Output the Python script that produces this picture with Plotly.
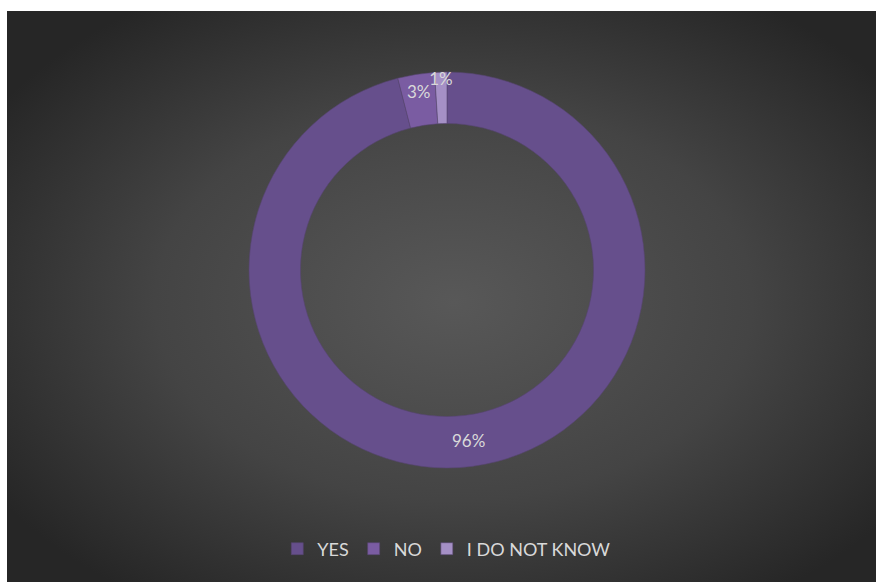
import base64
import plotly.graph_objects as go

# Data
categories = ["YES", "NO", "I DO NOT KNOW"]
values = [96, 3, 1]
colors = ["#664f8c", "#7a5ca2", "#a590c6"]

W, H = 876, 582

svg = '''<svg xmlns="http://www.w3.org/2000/svg" width="869" height="571" viewBox="0 0 869 571" preserveAspectRatio="none">
<defs><radialGradient id="g" cx="0.51" cy="0.5" r="0.62">
<stop offset="0" stop-color="#585858"/>
<stop offset="0.55" stop-color="#444444"/>
<stop offset="1" stop-color="#262626"/>
</radialGradient></defs>
<rect width="869" height="571" fill="url(#g)"/></svg>'''
src = "data:image/svg+xml;base64," + base64.b64encode(svg.encode()).decode()

cx, cy, R = 447, 270, 198
fig = go.Figure(go.Pie(
    labels=categories,
    values=values,
    hole=0.74,
    sort=False,
    direction="clockwise",
    rotation=0,
    marker=dict(colors=colors, line=dict(color="#55446f", width=0.6)),
    texttemplate="%{percent:.0%}",
    textposition="inside",
    insidetextorientation="horizontal",
    textfont=dict(size=17, color="#d9d9d9", family="Lato"),
    domain=dict(x=[(cx - R) / W, (cx + R) / W], y=[(H - cy - R) / H, (H - cy + R) / H]),
    hoverinfo="label+percent",
))

fig.update_layout(
    width=W, height=H,
    margin=dict(l=0, r=0, t=0, b=0),
    paper_bgcolor="#262626",
    plot_bgcolor="rgba(0,0,0,0)",
    font=dict(family="Lato", color="#d9d9d9"),
    uniformtext=dict(minsize=17, mode="show"),
    showlegend=True,
    legend=dict(orientation="h", x=0.51, xanchor="center", y=(H - 549) / H, yanchor="middle",
                font=dict(size=18, color="#d9d9d9", family="Lato"),
                bgcolor="rgba(0,0,0,0)", itemwidth=30, traceorder="normal"),
    images=[dict(source=src, xref="paper", yref="paper", x=7 / W, y=1 - 11 / H,
                 sizex=1.0, sizey=1.0, sizing="stretch",
                 xanchor="left", yanchor="top", layer="below")],
    shapes=[
        dict(type="rect", xref="paper", yref="paper", x0=0, x1=7 / W, y0=0, y1=1,
             fillcolor="white", line_width=0, layer="below"),
        dict(type="rect", xref="paper", yref="paper", x0=0, x1=1, y0=1 - 11 / H, y1=1,
             fillcolor="white", line_width=0, layer="below"),
    ],
)

fig.write_html("out.html", config={"displayModeBar": False},
               post_script="document.body.style.margin='0';document.body.style.overflow='hidden';"
                           "document.body.style.background='#262626';"
                           "document.documentElement.style.background='#262626';")
